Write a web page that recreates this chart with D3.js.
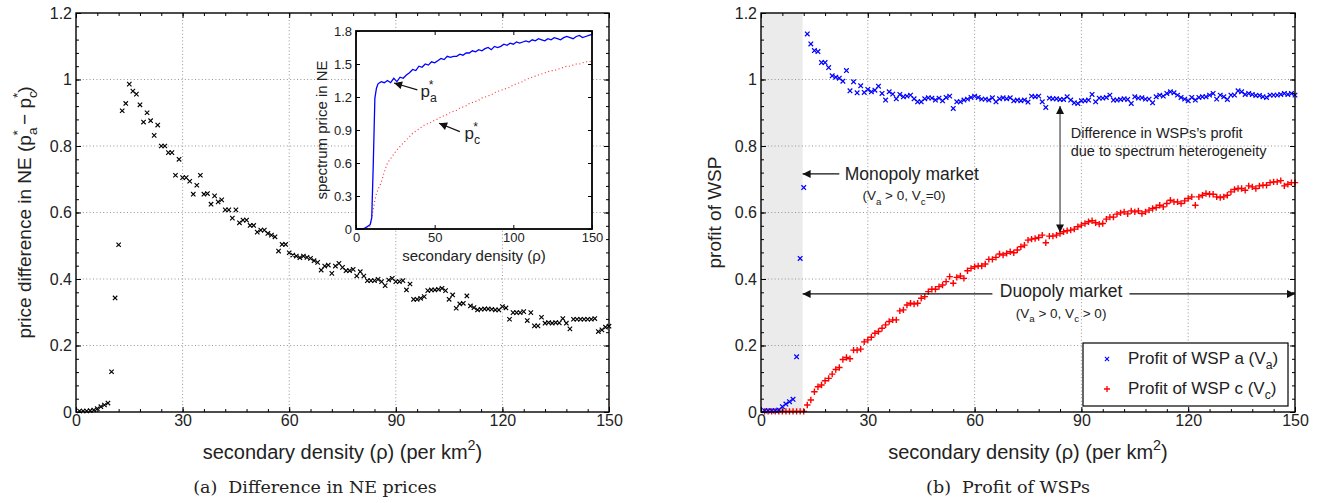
<!DOCTYPE html>
<html>
<head>
<meta charset="utf-8">
<script src="https://cdn.jsdelivr.net/npm/d3@7/dist/d3.min.js"></script>
<style>
  body { margin: 0; background: #fff; }
</style>
</head>
<body>
<svg id="chart" width="1321" height="503"></svg>
<script>
// secondary density (rho), one sample per unit
const density = d3.range(1, 151)

// (a) price difference in NE, p_a* - p_c*
const priceDiff = [
  0.003, 0.003, 0.003, 0.004, 0.006, 0.010, 0.016, 0.021, 0.027, 0.121,
  0.343, 0.503, 0.906, 0.928, 0.986, 0.965, 0.956, 0.924, 0.872, 0.900,
  0.876, 0.832, 0.863, 0.800, 0.800, 0.780, 0.780, 0.712, 0.760, 0.705,
  0.705, 0.694, 0.655, 0.682, 0.712, 0.655, 0.657, 0.625, 0.650, 0.632,
  0.638, 0.608, 0.608, 0.583, 0.608, 0.569, 0.577, 0.577, 0.561, 0.561,
  0.541, 0.547, 0.547, 0.537, 0.532, 0.527, 0.484, 0.504, 0.504, 0.479,
  0.472, 0.469, 0.464, 0.469, 0.465, 0.462, 0.455, 0.450, 0.427, 0.439,
  0.442, 0.417, 0.439, 0.447, 0.435, 0.425, 0.425, 0.429, 0.409, 0.422,
  0.409, 0.395, 0.395, 0.395, 0.399, 0.392, 0.380, 0.397, 0.402, 0.392,
  0.392, 0.395, 0.367, 0.385, 0.339, 0.339, 0.342, 0.347, 0.365, 0.367,
  0.367, 0.369, 0.372, 0.365, 0.339, 0.352, 0.312, 0.325, 0.327, 0.349,
  0.319, 0.314, 0.307, 0.309, 0.310, 0.310, 0.309, 0.307, 0.307, 0.317,
  0.313, 0.279, 0.299, 0.299, 0.299, 0.302, 0.275, 0.299, 0.259, 0.259,
  0.285, 0.267, 0.269, 0.267, 0.269, 0.268, 0.281, 0.267, 0.250, 0.279,
  0.279, 0.279, 0.279, 0.279, 0.279, 0.281, 0.242, 0.247, 0.255, 0.258
]

// inset: spectrum prices in NE
const insetDensity = [
  0, 2, 4, 6, 8, 9, 10, 11, 12, 13, 14,
  16, 18, 20, 22, 24, 26, 28, 30, 32, 34, 36, 38, 40, 42, 44, 46, 48, 50,
  52, 54, 56, 58, 60, 62, 64, 66, 68, 70, 72, 74, 76, 78, 80, 82, 84, 86,
  88, 90, 92, 94, 96, 98, 100, 102, 104, 106, 108, 110, 112, 114, 116, 118,
  120, 122, 124, 126, 128, 130, 132, 134, 136, 138, 140, 142, 144, 146, 148, 150
]
const priceA = [
  0, 0, 0, 0.01, 0.03, 0.04, 0.10, 0.60, 1.19, 1.28, 1.32,
  1.34, 1.33, 1.35, 1.33, 1.37, 1.34, 1.38, 1.37, 1.40, 1.42, 1.45, 1.44, 1.48, 1.47, 1.50, 1.49, 1.52, 1.51,
  1.53, 1.55, 1.54, 1.57, 1.56, 1.57, 1.57, 1.59, 1.58, 1.60, 1.60, 1.62, 1.61, 1.63, 1.62, 1.64, 1.65, 1.63,
  1.66, 1.65, 1.66, 1.68, 1.67, 1.69, 1.68, 1.70, 1.69, 1.70, 1.71, 1.70, 1.72, 1.71, 1.73, 1.72,
  1.71, 1.73, 1.72, 1.74, 1.73, 1.72, 1.74, 1.75, 1.74, 1.73, 1.75, 1.76, 1.74, 1.75, 1.76, 1.77
]
const priceC = [
  0, 0, 0, 0, 0.01, 0.03, 0.10, 0.18, 0.26, 0.32, 0.36,
  0.42, 0.52, 0.60, 0.64, 0.68, 0.72, 0.75, 0.78, 0.81, 0.84, 0.87, 0.89, 0.91, 0.93, 0.95, 0.96, 0.97, 0.99,
  1.00, 1.02, 1.03, 1.04, 1.06, 1.07, 1.08, 1.10, 1.11, 1.12, 1.14, 1.15, 1.16, 1.17, 1.19, 1.20, 1.21, 1.22,
  1.24, 1.25, 1.26, 1.27, 1.28, 1.29, 1.31, 1.32, 1.33, 1.34, 1.36, 1.37, 1.38, 1.39, 1.40, 1.41,
  1.42, 1.43, 1.44, 1.44, 1.45, 1.46, 1.47, 1.48, 1.48, 1.49, 1.50, 1.50, 1.51, 1.52, 1.52, 1.53
]

// (b) profit of WSP a and WSP c
const profitA = [
  0.004, 0.004, 0.004, 0.004, 0.006, 0.016, 0.024, 0.031, 0.038, 0.166,
  0.462, 0.675, 1.137, 1.107, 1.087, 1.084, 1.051, 1.051, 1.036, 1.011,
  1.007, 1.004, 0.995, 1.027, 0.966, 0.993, 0.960, 0.981, 0.961, 0.970,
  0.963, 0.968, 0.980, 0.958, 0.938, 0.963, 0.956, 0.942, 0.955, 0.948,
  0.950, 0.953, 0.942, 0.933, 0.933, 0.942, 0.945, 0.944, 0.938, 0.944,
  0.936, 0.946, 0.950, 0.913, 0.933, 0.933, 0.938, 0.941, 0.946, 0.950,
  0.946, 0.941, 0.941, 0.938, 0.945, 0.933, 0.942, 0.945, 0.942, 0.945,
  0.936, 0.938, 0.936, 0.938, 0.932, 0.950, 0.948, 0.950, 0.933, 0.916,
  0.944, 0.942, 0.942, 0.940, 0.940, 0.948, 0.938, 0.930, 0.928, 0.936,
  0.936, 0.938, 0.955, 0.933, 0.944, 0.944, 0.946, 0.953, 0.938, 0.938,
  0.940, 0.942, 0.940, 0.928, 0.948, 0.944, 0.945, 0.941, 0.941, 0.930,
  0.948, 0.953, 0.950, 0.958, 0.963, 0.960, 0.953, 0.946, 0.941, 0.936,
  0.946, 0.938, 0.946, 0.948, 0.948, 0.953, 0.958, 0.941, 0.953, 0.948,
  0.940, 0.953, 0.953, 0.966, 0.963, 0.955, 0.958, 0.955, 0.952, 0.952,
  0.948, 0.946, 0.953, 0.953, 0.953, 0.955, 0.958, 0.955, 0.958, 0.953
]
const profitC = [
  0.002, 0.002, 0.002, 0.002, 0.002, 0.002, 0.002, 0.002, 0.002, 0.002,
  0.002, 0.002, 0.021, 0.036, 0.061, 0.076, 0.081, 0.094, 0.101, 0.114,
  0.128, 0.134, 0.158, 0.164, 0.160, 0.186, 0.186, 0.189, 0.211, 0.217,
  0.225, 0.237, 0.242, 0.252, 0.262, 0.272, 0.277, 0.277, 0.304, 0.307,
  0.322, 0.327, 0.325, 0.327, 0.342, 0.347, 0.362, 0.369, 0.369, 0.377,
  0.382, 0.392, 0.407, 0.387, 0.405, 0.409, 0.402, 0.425, 0.432, 0.437,
  0.439, 0.439, 0.445, 0.459, 0.459, 0.465, 0.475, 0.472, 0.477, 0.482,
  0.479, 0.487, 0.497, 0.502, 0.517, 0.520, 0.522, 0.525, 0.532, 0.509,
  0.529, 0.529, 0.532, 0.537, 0.542, 0.545, 0.547, 0.550, 0.557, 0.562,
  0.567, 0.572, 0.575, 0.569, 0.565, 0.567, 0.580, 0.586, 0.586, 0.595,
  0.599, 0.602, 0.596, 0.605, 0.602, 0.605, 0.597, 0.602, 0.607, 0.612,
  0.615, 0.622, 0.617, 0.627, 0.637, 0.632, 0.632, 0.627, 0.635, 0.642,
  0.647, 0.622, 0.647, 0.652, 0.657, 0.655, 0.655, 0.647, 0.645, 0.647,
  0.652, 0.662, 0.669, 0.672, 0.672, 0.667, 0.680, 0.677, 0.672, 0.680,
  0.682, 0.682, 0.690, 0.692, 0.692, 0.696, 0.680, 0.685, 0.690, 0.690
]

const xTicks = [0, 30, 60, 90, 120, 150]
const yTicks = [0, 0.2, 0.4, 0.6, 0.8, 1, 1.2]
const xMinor = d3.range(0, 151, 6)
const yMinor = d3.range(0, 1.2001, 0.04)
const insetXTicks = [0, 50, 100, 150]
const insetYTicks = [0, 0.3, 0.6, 0.9, 1.2, 1.5, 1.8]
const monopolyEnd = 11.7

const FONT = '"Liberation Sans", Arial, Helvetica, sans-serif'
const SERIF = '"DejaVu Serif", "Liberation Serif", serif'
const svg = d3.select('#chart').attr('font-family', FONT)

// text with sub/superscripts
function rich (sel, parts, size) {
  let shift = 0
  parts.forEach(p => {
    let target = 0
    let fs = size
    if (p.sub) { target = size * 0.32; fs = size * 0.72 }
    if (p.sup) { target = -size * 0.45; fs = size * 0.72 }
    const ts = sel.append('tspan').text(p.t)
      .attr('font-size', fs)
      .attr('dy', target - shift)
    if (p.dx) ts.attr('dx', p.dx)
    shift = target
  })
  if (shift) sel.append('tspan').text('').attr('dy', -shift)
  return sel
}

function xMark (sel, s) {
  return sel.attr('d', `M${-s},${-s}L${s},${s}M${-s},${s}L${s},${-s}`)
}
function plusMark (sel, s) {
  return sel.attr('d', `M${-s},0L${s},0M0,${-s}L0,${s}`)
}

// arrowheads
const defs = svg.append('defs')
defs.append('marker')
  .attr('id', 'head')
  .attr('viewBox', '0 0 10 10')
  .attr('refX', 10).attr('refY', 5)
  .attr('markerWidth', 10).attr('markerHeight', 8)
  .attr('markerUnits', 'userSpaceOnUse')
  .attr('orient', 'auto-start-reverse')
  .append('path').attr('d', 'M0,0L10,5L0,10Z').attr('fill', '#111')

function drawFrame (g, x, y, opts) {
  const [x0, x1] = x.range()
  const [y0, y1] = y.range()
  const sw = opts.strokeWidth || 1.3

  const styleAxis = a => {
    a.select('.domain').remove()
    a.attr('font-family', FONT).attr('font-size', opts.tickFont)
    a.selectAll('line').attr('stroke', '#000').attr('stroke-width', 1)
    a.selectAll('text').attr('fill', '#222')
  }

  g.append('g').attr('transform', `translate(0,${y0})`)
    .call(d3.axisBottom(x).tickValues(opts.xTicks).tickSize(-opts.major).tickPadding(opts.xPad).tickFormat(d3.format('')))
    .call(styleAxis)
  g.append('g').attr('transform', `translate(${x0},0)`)
    .call(d3.axisLeft(y).tickValues(opts.yTicks).tickSize(-opts.major).tickPadding(opts.yPad).tickFormat(d => d3.format('')(+d.toFixed(2))))
    .call(styleAxis)
  g.append('g').attr('transform', `translate(0,${y1})`)
    .call(d3.axisTop(x).tickValues(opts.xTicks).tickSize(-opts.major).tickFormat(''))
    .call(styleAxis)
  g.append('g').attr('transform', `translate(${x1},0)`)
    .call(d3.axisRight(y).tickValues(opts.yTicks).tickSize(-opts.major).tickFormat(''))
    .call(styleAxis)

  if (opts.minor) {
    g.append('g').attr('transform', `translate(0,${y0})`)
      .call(d3.axisBottom(x).tickValues(xMinor).tickSize(-opts.minor).tickFormat(''))
      .call(styleAxis)
    g.append('g').attr('transform', `translate(0,${y1})`)
      .call(d3.axisTop(x).tickValues(xMinor).tickSize(-opts.minor).tickFormat(''))
      .call(styleAxis)
    g.append('g').attr('transform', `translate(${x0},0)`)
      .call(d3.axisLeft(y).tickValues(yMinor).tickSize(-opts.minor).tickFormat(''))
      .call(styleAxis)
    g.append('g').attr('transform', `translate(${x1},0)`)
      .call(d3.axisRight(y).tickValues(yMinor).tickSize(-opts.minor).tickFormat(''))
      .call(styleAxis)
  }

  g.append('rect')
    .attr('x', x0).attr('y', y1)
    .attr('width', x1 - x0).attr('height', y0 - y1)
    .attr('fill', 'none').attr('stroke', '#000').attr('stroke-width', sw)
}

function drawGrid (g, x, y) {
  const [x0, x1] = x.range()
  const [y0, y1] = y.range()
  g.append('g').selectAll('line')
    .data(xTicks.slice(1, -1))
    .join('line')
    .attr('x1', d => x(d)).attr('x2', d => x(d))
    .attr('y1', y0).attr('y2', y1)
  g.append('g').selectAll('line')
    .data(yTicks.slice(1, -1))
    .join('line')
    .attr('x1', x0).attr('x2', x1)
    .attr('y1', d => y(d)).attr('y2', d => y(d))
  g.selectAll('line')
    .attr('stroke', '#8a8a8a').attr('stroke-width', 0.9).attr('stroke-dasharray', '1,2.4')
}

const mainOpts = { xTicks, yTicks, major: 5, minor: 3, tickFont: 16, xPad: 3, yPad: 4, strokeWidth: 1.4 }

// ---------- (a) ----------
const xL = d3.scaleLinear().domain([0, 150]).range([76, 609])
const y = d3.scaleLinear().domain([0, 1.2]).range([412, 13])

const gA = svg.append('g')
drawGrid(gA.append('g'), xL, y)

gA.append('g').selectAll('path')
  .data(density)
  .join('path')
  .call(xMark, 2.2)
  .attr('transform', (d, i) => `translate(${xL(d)},${y(priceDiff[i])})`)
  .attr('stroke', '#000').attr('stroke-width', 1.15).attr('fill', 'none')

drawFrame(gA, xL, y, mainOpts)

gA.append('text')
  .attr('x', xL(75)).attr('y', 459)
  .attr('text-anchor', 'middle').attr('font-size', 20).attr('fill', '#222')
  .call(rich, [{ t: 'secondary density (\u03c1) (per km' }, { t: '2', sup: true }, { t: ')' }], 20)

gA.append('text')
  .attr('transform', `translate(31,${y(0.6)}) rotate(-90)`)
  .attr('text-anchor', 'middle').attr('font-size', 19).attr('fill', '#222')
  .call(rich, [
    { t: 'price difference in NE (p' }, { t: 'a', sub: true }, { t: '*', sup: true, dx: -8 },
    { t: ' \u2212 p' }, { t: 'c', sub: true }, { t: '*', sup: true, dx: -7 }, { t: ')' }
  ], 19)

svg.append('text')
  .attr('x', 315).attr('y', 493)
  .attr('text-anchor', 'middle')
  .attr('font-family', SERIF)
  .attr('font-size', 17.5).attr('fill', '#222')
  .text('(a)\u00a0 Difference in NE prices')

// ---------- inset ----------
const xI = d3.scaleLinear().domain([0, 150]).range([356, 592])
const yI = d3.scaleLinear().domain([0, 1.8]).range([229, 31])
const gI = svg.append('g')

gI.append('rect')
  .attr('x', 356).attr('y', 31).attr('width', 236).attr('height', 198)
  .attr('fill', '#fff')

const insetLine = v => d3.line()
  .x((d, i) => xI(insetDensity[i]))
  .y(d => yI(d))(v)

gI.append('path')
  .attr('d', insetLine(priceC))
  .attr('fill', 'none').attr('stroke', '#ff2a2a').attr('stroke-width', 1.1)
  .attr('stroke-dasharray', '1,2.6')

gI.append('path')
  .attr('d', insetLine(priceA))
  .attr('fill', 'none').attr('stroke', '#0000ff').attr('stroke-width', 1.3)

drawFrame(gI, xI, yI, {
  xTicks: insetXTicks, yTicks: insetYTicks, major: 4, tickFont: 13, xPad: 4, yPad: 4, strokeWidth: 1.8
})

gI.append('text')
  .attr('x', xI(75)).attr('y', 261)
  .attr('text-anchor', 'middle').attr('font-size', 15).attr('fill', '#222')
  .text('secondary density (\u03c1)')

gI.append('text')
  .attr('transform', `translate(327,${yI(0.9)}) rotate(-90)`)
  .attr('text-anchor', 'middle').attr('font-size', 15).attr('fill', '#222')
  .text('spectrum price in NE')

// inset annotations
gI.append('line')
  .attr('x1', xI(39)).attr('y1', yI(1.265))
  .attr('x2', xI(24.2)).attr('y2', yI(1.327))
  .attr('stroke', '#111').attr('stroke-width', 1.2).attr('marker-end', 'url(#head)')
gI.append('text')
  .attr('x', xI(41)).attr('y', yI(1.2))
  .attr('font-size', 17).attr('fill', '#222')
  .call(rich, [{ t: 'p' }, { t: 'a', sub: true }, { t: '*', sup: true, dx: -8 }], 17)

gI.append('line')
  .attr('x1', xI(66)).attr('y1', yI(0.885))
  .attr('x2', xI(52.8)).attr('y2', yI(0.961))
  .attr('stroke', '#111').attr('stroke-width', 1.2).attr('marker-end', 'url(#head)')
gI.append('text')
  .attr('x', xI(69)).attr('y', yI(0.82))
  .attr('font-size', 17).attr('fill', '#222')
  .call(rich, [{ t: 'p' }, { t: 'c', sub: true }, { t: '*', sup: true, dx: -7 }], 17)

// ---------- (b) ----------
const xR = d3.scaleLinear().domain([0, 150]).range([761, 1295])
const gB = svg.append('g')

gB.append('rect')
  .attr('x', xR(0)).attr('y', y(1.2))
  .attr('width', xR(monopolyEnd) - xR(0)).attr('height', y(0) - y(1.2))
  .attr('fill', '#ebebeb')

drawGrid(gB.append('g'), xR, y)

gB.append('g').selectAll('path')
  .data(density)
  .join('path')
  .call(plusMark, 3.2)
  .attr('transform', (d, i) => `translate(${xR(d)},${y(profitC[i])})`)
  .attr('stroke', '#ff0000').attr('stroke-width', 1.4).attr('fill', 'none')

gB.append('g').selectAll('path')
  .data(density)
  .join('path')
  .call(xMark, 2.3)
  .attr('transform', (d, i) => `translate(${xR(d)},${y(profitA[i])})`)
  .attr('stroke', '#0000ff').attr('stroke-width', 1.25).attr('fill', 'none')

// annotations
const ann = gB.append('g').attr('fill', '#222')

ann.append('line')
  .attr('x1', xR(22)).attr('y1', y(0.716))
  .attr('x2', xR(monopolyEnd)).attr('y2', y(0.716))
  .attr('stroke', '#111').attr('stroke-width', 1.2).attr('marker-end', 'url(#head)')
ann.append('text')
  .attr('x', xR(23.5)).attr('y', y(0.697))
  .attr('font-size', 17.5)
  .text('Monopoly market')
ann.append('text')
  .attr('x', xR(28.5)).attr('y', y(0.637))
  .attr('font-size', 13.5)
  .call(rich, [{ t: '(V' }, { t: 'a', sub: true }, { t: ' > 0, V' }, { t: 'c', sub: true }, { t: '=0)' }], 13.5)

ann.append('line')
  .attr('x1', xR(65)).attr('y1', y(0.355))
  .attr('x2', xR(monopolyEnd)).attr('y2', y(0.355))
  .attr('stroke', '#111').attr('stroke-width', 1.2).attr('marker-end', 'url(#head)')
ann.append('line')
  .attr('x1', xR(103.5)).attr('y1', y(0.355))
  .attr('x2', xR(150)).attr('y2', y(0.355))
  .attr('stroke', '#111').attr('stroke-width', 1.2).attr('marker-end', 'url(#head)')
ann.append('text')
  .attr('x', xR(84.3)).attr('y', y(0.345))
  .attr('text-anchor', 'middle').attr('font-size', 17.5)
  .text('Duopoly market')
ann.append('text')
  .attr('x', xR(84.3)).attr('y', y(0.283))
  .attr('text-anchor', 'middle').attr('font-size', 13.5)
  .call(rich, [{ t: '(V' }, { t: 'a', sub: true }, { t: ' > 0, V' }, { t: 'c', sub: true }, { t: ' > 0)' }], 13.5)

ann.append('line')
  .attr('x1', xR(84)).attr('y1', y(0.54))
  .attr('x2', xR(84)).attr('y2', y(0.92))
  .attr('stroke', '#555').attr('stroke-width', 1.3)
  .attr('marker-start', 'url(#head)').attr('marker-end', 'url(#head)')
ann.append('text')
  .attr('x', xR(87)).attr('y', y(0.825))
  .attr('font-size', 14.5)
  .text('Difference in WSPs\u2019s profit')
ann.append('text')
  .attr('x', xR(87)).attr('y', y(0.77))
  .attr('font-size', 14.5)
  .text('due to spectrum heterogeneity')

// legend
const leg = gB.append('g')
leg.append('rect')
  .attr('x', 1083).attr('y', 343).attr('width', 205).attr('height', 63)
  .attr('fill', '#fff').attr('stroke', '#000').attr('stroke-width', 1.2)
leg.append('path').call(xMark, 2.1)
  .attr('transform', 'translate(1107,359)')
  .attr('stroke', '#0000ff').attr('stroke-width', 1.1)
leg.append('path').call(plusMark, 3)
  .attr('transform', 'translate(1107,389)')
  .attr('stroke', '#ff0000').attr('stroke-width', 1.3)
leg.append('text')
  .attr('x', 1128).attr('y', 364).attr('font-size', 17).attr('fill', '#222')
  .call(rich, [{ t: 'Profit of WSP a (V' }, { t: 'a', sub: true }, { t: ')' }], 17)
leg.append('text')
  .attr('x', 1128).attr('y', 394).attr('font-size', 17).attr('fill', '#222')
  .call(rich, [{ t: 'Profit of WSP c (V' }, { t: 'c', sub: true }, { t: ')' }], 17)

drawFrame(gB, xR, y, mainOpts)

gB.append('text')
  .attr('x', xR(75)).attr('y', 459)
  .attr('text-anchor', 'middle').attr('font-size', 20).attr('fill', '#222')
  .call(rich, [{ t: 'secondary density (\u03c1) (per km' }, { t: '2', sup: true }, { t: ')' }], 20)

gB.append('text')
  .attr('transform', `translate(721,${y(0.6)}) rotate(-90)`)
  .attr('text-anchor', 'middle').attr('font-size', 19).attr('fill', '#222')
  .text('profit of WSP')

svg.append('text')
  .attr('x', 1008).attr('y', 493)
  .attr('text-anchor', 'middle')
  .attr('font-family', SERIF)
  .attr('font-size', 17.5).attr('fill', '#222')
  .text('(b)\u00a0 Profit of WSPs')
</script>
</body>
</html>
